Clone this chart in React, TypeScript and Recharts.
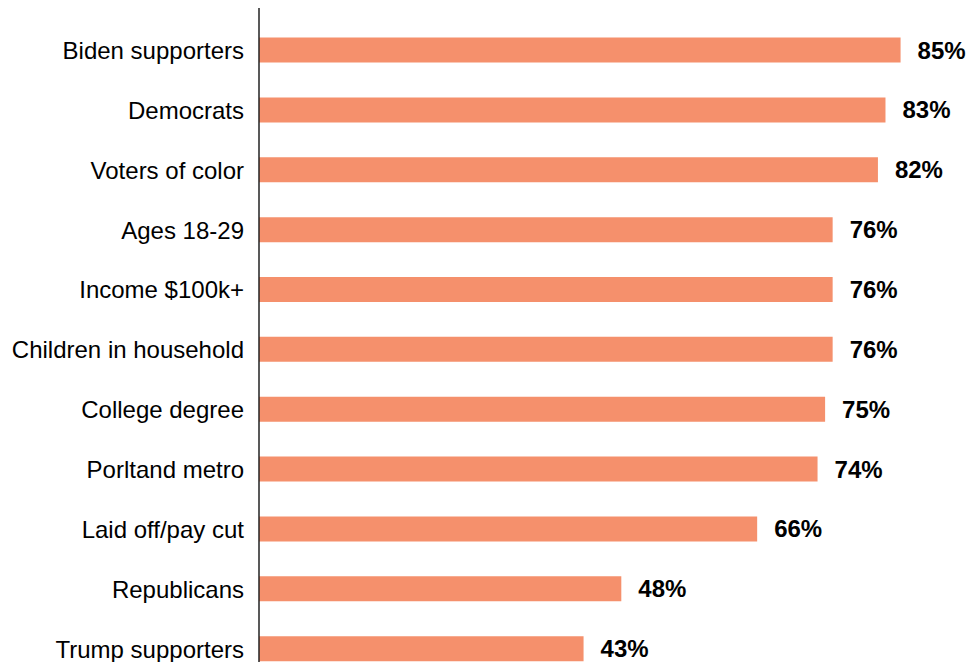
import { BarChart, Bar, XAxis, YAxis, LabelList } from "recharts";

const groups = [
  "Biden supporters",
  "Democrats",
  "Voters of color",
  "Ages 18-29",
  "Income $100k+",
  "Children in household",
  "College degree",
  "Porltand metro",
  "Laid off/pay cut",
  "Republicans",
  "Trump supporters",
];
const shares = [85, 83, 82, 76, 76, 76, 75, 74, 66, 48, 43];

const data = groups.map((group, i) => ({ group, share: shares[i] }));

const font = "'Liberation Sans', Arial, sans-serif";

export default function App() {
  return (
    <div style={{ position: "absolute", top: 0, left: 0, width: 967, height: 662, overflow: "hidden", background: "#fff" }}>
      <BarChart
        width={967}
        height={679}
        data={data}
        layout="vertical"
        margin={{ top: 8, right: 0, bottom: 0, left: 0 }}
      >
        <XAxis type="number" domain={[0, 93.8]} hide />
        <YAxis
          type="category"
          dataKey="group"
          width={259}
          padding={{ top: 12.6, bottom: 0 }}
          tickLine={false}
          tickSize={0}
          tickMargin={15}
          axisLine={{ stroke: "#222", strokeWidth: 1.5 }}
          tick={{ fill: "#000", fontSize: 24, fontFamily: font }}
          interval={0}
        />
        <Bar dataKey="share" fill="#F5906C" barSize={25} isAnimationActive={false}>
          <LabelList
            dataKey="share"
            position="right"
            offset={17}
            formatter={(v: any) => `${v}%`}
            style={{ fill: "#000", fontSize: 24, fontWeight: 700, fontFamily: font }}
          />
        </Bar>
      </BarChart>
    </div>
  );
}
